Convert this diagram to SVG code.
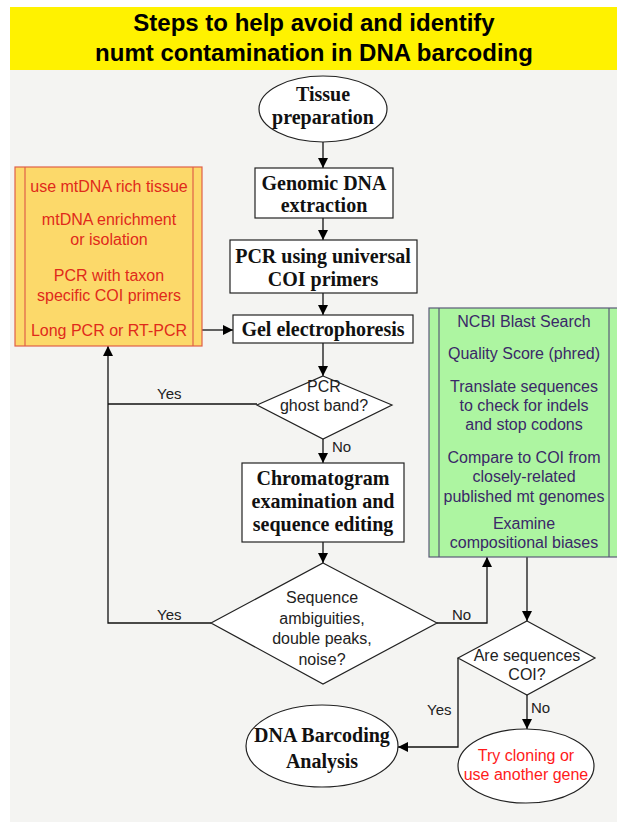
<svg xmlns="http://www.w3.org/2000/svg" width="617" height="822" viewBox="0 0 617 822">
<defs>
<marker id="ah" viewBox="0 0 10 10" refX="10" refY="5" markerWidth="10" markerHeight="10" markerUnits="userSpaceOnUse" orient="auto">
<path d="M0,0 L10,5 L0,10 z" fill="#000"/>
</marker>
</defs>
<style>
.box{fill:#fff;stroke:#222;stroke-width:1.2}
.serif{font-family:"Liberation Serif","Times New Roman",serif;font-weight:bold;font-size:20px;fill:#111;text-anchor:middle}
.sans{font-family:"Liberation Sans",Arial,sans-serif;font-size:16px;fill:#222;text-anchor:middle}
.red{font-family:"Liberation Sans",Arial,sans-serif;font-size:16px;fill:#e02a1a;text-anchor:middle}
.blue{font-family:"Liberation Sans",Arial,sans-serif;font-size:16px;fill:#3a2868;text-anchor:middle}
.lbl{font-family:"Liberation Sans",Arial,sans-serif;font-size:15px;fill:#222}
.conn{fill:none;stroke:#111;stroke-width:1.3}
.title{font-family:"Liberation Sans",Arial,sans-serif;font-weight:bold;font-size:24px;fill:#000;text-anchor:middle}
</style>
<rect x="10" y="70" width="607" height="752" fill="#f4f4f2"/>
<rect x="10" y="7" width="607" height="63" fill="#fff200"/>
<text class="title" x="314" y="31">Steps to help avoid and identify</text>
<text class="title" x="314" y="61">numt contamination in DNA barcoding</text>

<g id="connectors">
<line class="conn" x1="323" y1="142" x2="323" y2="168" marker-end="url(#ah)"/>
<line class="conn" x1="323" y1="218" x2="323" y2="240" marker-end="url(#ah)"/>
<line class="conn" x1="323" y1="293" x2="323" y2="315" marker-end="url(#ah)"/>
<line class="conn" x1="323" y1="343" x2="323" y2="376" marker-end="url(#ah)"/>
<line class="conn" x1="202" y1="330" x2="233" y2="330" marker-end="url(#ah)"/>
<line class="conn" x1="323" y1="439" x2="323" y2="463" marker-end="url(#ah)"/>
<line class="conn" x1="323" y1="542" x2="323" y2="563" marker-end="url(#ah)"/>
<polyline class="conn" points="257,404 108,404"/>
<polyline class="conn" points="211,623 108,623 108,346" marker-end="url(#ah)"/>
<polyline class="conn" points="437,623 487,623 487,557" marker-end="url(#ah)"/>
<line class="conn" x1="527" y1="557" x2="527" y2="621" marker-end="url(#ah)"/>
<polyline class="conn" points="458,658 458,747 398,747" marker-end="url(#ah)"/>
<line class="conn" x1="527" y1="695" x2="527" y2="729" marker-end="url(#ah)"/>
<text class="lbl" x="157" y="399">Yes</text>
<text class="lbl" x="332" y="452">No</text>
<text class="lbl" x="157" y="620">Yes</text>
<text class="lbl" x="452" y="620">No</text>
<text class="lbl" x="427" y="715">Yes</text>
<text class="lbl" x="531" y="713">No</text>
</g>

<g id="tissue">
<ellipse class="box" cx="323" cy="109" rx="64" ry="33"/>
<text class="serif" x="323" y="101">Tissue</text>
<text class="serif" x="323" y="124">preparation</text>
</g>
<g id="genomic">
<rect class="box" x="255" y="168" width="138" height="50"/>
<text class="serif" x="324" y="190">Genomic DNA</text>
<text class="serif" x="324" y="212">extraction</text>
</g>
<g id="pcr">
<rect class="box" x="230" y="240" width="187" height="53"/>
<text class="serif" x="323" y="263">PCR using universal</text>
<text class="serif" x="323" y="286">COI primers</text>
</g>
<g id="gel">
<rect class="box" x="233" y="315" width="180" height="28"/>
<text class="serif" x="323" y="336">Gel electrophoresis</text>
</g>
<g id="ghost">
<polygon class="box" points="323,376 392,405 323,439 257,405"/>
<text class="sans" x="324" y="392">PCR</text>
<text class="sans" x="324" y="411">ghost band?</text>
</g>
<g id="chromatogram">
<rect class="box" x="242" y="463" width="162" height="79"/>
<text class="serif" x="323" y="485">Chromatogram</text>
<text class="serif" x="323" y="508">examination and</text>
<text class="serif" x="323" y="531">sequence editing</text>
</g>
<g id="ambig">
<polygon class="box" points="323,563 437,623 323,684 211,623"/>
<text class="sans" x="322" y="603">Sequence</text>
<text class="sans" x="322" y="624">ambiguities,</text>
<text class="sans" x="322" y="644">double peaks,</text>
<text class="sans" x="322" y="665">noise?</text>
</g>
<g id="avoid">
<rect x="15" y="167" width="187" height="179" fill="#fcd96a" stroke="#e06048" stroke-width="1.2"/>
<line x1="25" y1="167" x2="25" y2="346" stroke="#e06048" stroke-width="1.2"/>
<line x1="193" y1="167" x2="193" y2="346" stroke="#e06048" stroke-width="1.2"/>
<text class="red" x="109" y="192">use mtDNA rich tissue</text>
<text class="red" x="109" y="225">mtDNA enrichment</text>
<text class="red" x="109" y="245">or isolation</text>
<text class="red" x="109" y="281">PCR with taxon</text>
<text class="red" x="109" y="301">specific COI primers</text>
<text class="red" x="109" y="336">Long PCR or RT-PCR</text>
</g>
<g id="identify">
<rect x="429" y="308" width="190" height="249" fill="#adf5a1" stroke="#5a5a78" stroke-width="1.2"/>
<line x1="439" y1="308" x2="439" y2="557" stroke="#5a5a78" stroke-width="1.2"/>
<line x1="609" y1="308" x2="609" y2="557" stroke="#5a5a78" stroke-width="1.2"/>
<text class="blue" x="524" y="327">NCBI Blast Search</text>
<text class="blue" x="524" y="359">Quality Score (phred)</text>
<text class="blue" x="524" y="392">Translate sequences</text>
<text class="blue" x="524" y="411">to check for indels</text>
<text class="blue" x="524" y="430">and stop codons</text>
<text class="blue" x="524" y="463">Compare to COI from</text>
<text class="blue" x="524" y="482">closely-related</text>
<text class="blue" x="524" y="502">published mt genomes</text>
<text class="blue" x="524" y="529">Examine</text>
<text class="blue" x="524" y="548">compositional biases</text>
</g>
<g id="coi">
<polygon class="box" points="527,621 595,658 527,695 458,658"/>
<text class="sans" x="527" y="661">Are sequences</text>
<text class="sans" x="527" y="680">COI?</text>
</g>
<g id="barcoding">
<ellipse class="box" cx="322" cy="746" rx="76" ry="41"/>
<text class="serif" x="322" y="742">DNA Barcoding</text>
<text class="serif" x="322" y="768">Analysis</text>
</g>
<g id="cloning">
<ellipse class="box" cx="526" cy="766" rx="68" ry="37"/>
<text class="red" x="526" y="761" style="fill:#ff1a1a">Try cloning or</text>
<text class="red" x="526" y="780" style="fill:#ff1a1a">use another gene</text>
</g>
</svg>
